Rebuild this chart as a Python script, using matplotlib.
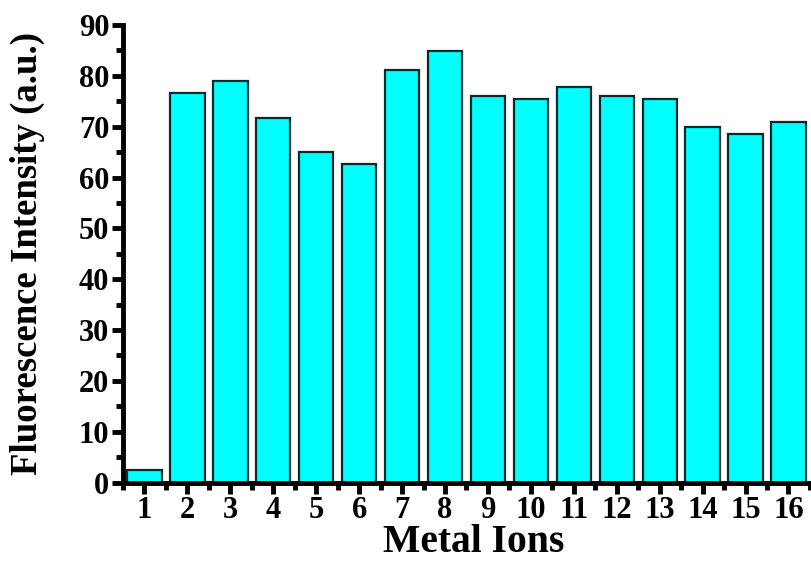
import numpy as np
import matplotlib.pyplot as plt
from matplotlib.ticker import MultipleLocator

# Fluorescence response for each metal ion
ions = np.arange(1, 17)
intensity = [2.4, 76.7, 79.0, 71.7, 65.1, 62.7, 81.2, 84.9,
             76.1, 75.5, 77.8, 76.1, 75.4, 70.0, 68.5, 71.0]

plt.rcParams['font.family'] = 'Liberation Serif'
plt.rcParams['font.weight'] = 'bold'

fig = plt.figure(figsize=(8.11, 5.62), dpi=100)
ax = fig.add_axes([0.1517, 0.1414, 0.847, 0.8141])

ax.bar(ions, intensity, width=0.8, color='#00FFFF',
       edgecolor='#0b2b2b', linewidth=1.6)

ax.set_xlim(0.5, 16.5)
ax.set_ylim(0, 90)
ax.set_xticks(ions)
ax.xaxis.set_minor_locator(MultipleLocator(1, offset=0.5))
ax.yaxis.set_major_locator(MultipleLocator(10))
ax.yaxis.set_minor_locator(MultipleLocator(5))

for s in ['top', 'right']:
    ax.spines[s].set_visible(False)
for s in ['left', 'bottom']:
    ax.spines[s].set_linewidth(3.5)

ax.tick_params(which='major', direction='out', length=8, width=3.5,
               labelsize=22, pad=2)
ax.tick_params(which='minor', direction='out', length=5, width=3.5)

ax.set_xlabel('Metal Ions', fontsize=28.5, fontweight='bold', labelpad=-1)
ax.xaxis.label.set_x(0.511)
ax.set_ylabel('Fluorescence Intensity (a.u.)', fontsize=26.5,
              fontweight='bold', labelpad=24)

plt.savefig('out.png', dpi=100)
